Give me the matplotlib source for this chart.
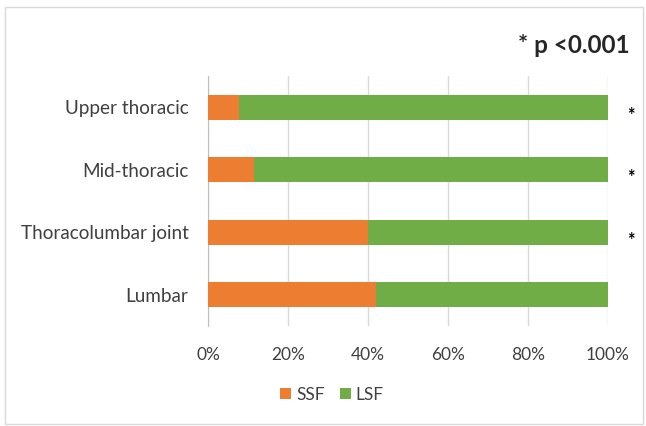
import matplotlib.pyplot as plt
from matplotlib.patches import Rectangle

# regions listed bottom to top, as the y axis draws them
regions = ['Lumbar', 'Thoracolumbar joint', 'Mid-thoracic', 'Upper thoracic']
ssf = [42, 40, 11.5, 7.75]
lsf = [100 - v for v in ssf]
significant = [False, True, True, True]
x_ticks = [0, 20, 40, 60, 80, 100]

plt.rcParams['font.family'] = ['Lato', 'DejaVu Sans']

fig = plt.figure(figsize=(6.46, 4.26), dpi=100)
ax = fig.add_axes([0.322, 0.235, 0.619, 0.587])

ypos = list(range(len(regions)))
ax.barh(ypos, ssf, height=0.4, color='#ED7D31', label='SSF', zorder=3)
ax.barh(ypos, lsf, left=ssf, height=0.4, color='#70AD47', label='LSF', zorder=3)

ax.set_xlim(0, 100)
ax.set_ylim(-0.5, 3.5)
ax.set_xticks(x_ticks)
ax.set_xticklabels([str(t) + '%' for t in x_ticks])
ax.set_yticks(ypos)
ax.set_yticklabels(regions)
ax.tick_params(axis='both', length=0, colors='#404040')
ax.tick_params(axis='x', pad=15, labelsize=12.5)
ax.tick_params(axis='y', pad=14, labelsize=13.6)
ax.grid(axis='x', color='#d9d9d9', linewidth=1, zorder=0)
for s in ['top', 'right', 'bottom']:
    ax.spines[s].set_visible(False)
ax.spines['left'].set_color('#bfbfbf')

#asterisks beside the significant rows
for y, sig in zip(ypos, significant):
    if sig:
        ax.text(105.8, y - 0.13, '*', fontsize=13, fontweight='bold', ha='center', va='center',
                color='black', clip_on=False)

fig.text(0.889, 0.893, '* p <0.001', fontsize=17.5, fontweight='bold', ha='center', va='center',
         color='#262626')

fig.legend(loc='center', bbox_to_anchor=(0.514, 0.073), ncol=2, frameon=False,
           fontsize=12.5, handlelength=0.6, handleheight=0.6, handletextpad=0.3,
           columnspacing=0.9, labelcolor='#404040')

fig.patches.append(Rectangle((0.0077, 0.005), 0.988, 0.979, transform=fig.transFigure,
                             fill=False, edgecolor='#d9d9d9', linewidth=1))

fig.savefig('out.png', dpi=100, facecolor='white')
